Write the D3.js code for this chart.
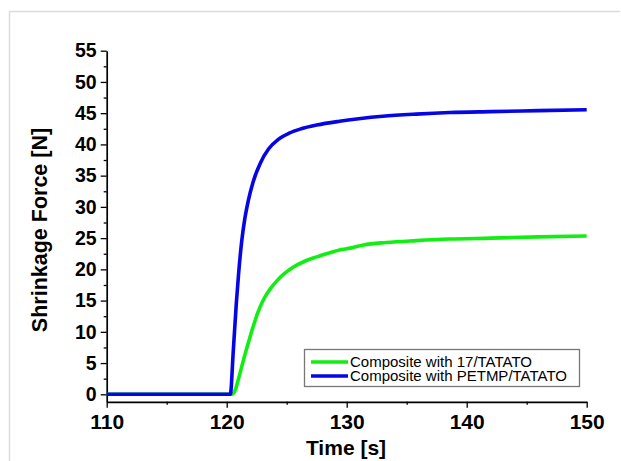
<!DOCTYPE html>
<html>
<head>
<meta charset="utf-8">
<script src="https://cdn.jsdelivr.net/npm/d3@7"></script>
<style>
  body { margin: 0; background: #fff; }
  text { font-family: Arial, "Liberation Sans", sans-serif; }
</style>
</head>
<body>
<script>
// ---------------------------- DATA ----------------------------
const seriesNames = ["Composite with 17/TATATO", "Composite with PETMP/TATATO"];
const seriesColors = ["#11ee11", "#0505e6"];

const time17 = [110, 120.45, 120.7, 121.0, 121.4, 121.8, 122.2, 122.6, 123.05, 123.6, 124.2, 124.8,
  125.5, 126.5, 127.5, 128.5, 129.4, 130.3, 131.4, 133.3, 135.8, 138.6, 142, 146, 150];
const force17 = [0, 0, 0.6, 2.6, 5.5, 8.2, 10.8, 13.1, 15.1, 16.8, 18.2, 19.3,
  20.3, 21.3, 22.0, 22.6, 23.1, 23.4, 23.9, 24.3, 24.6, 24.85, 25.0, 25.2, 25.35];

const timePETMP = [110, 120.3, 120.55, 120.8, 121.0, 121.25, 121.5, 121.8, 122.2, 122.8, 123.5, 124.3,
  125.2, 126.2, 127.5, 129.4, 131, 133, 135.8, 138.6, 142, 146, 150];
const forcePETMP = [0, 0, 7, 14.5, 19.5, 24.5, 28, 31, 34, 37, 39.3, 40.8,
  41.8, 42.5, 43.1, 43.7, 44.1, 44.5, 44.85, 45.1, 45.25, 45.4, 45.55];

const xTicks = [110, 120, 130, 140, 150];
const yTicks = [0, 5, 10, 15, 20, 25, 30, 35, 40, 45, 50, 55];

// ---------------------------- SVG ----------------------------
const width = 621, height = 461;
const svg = d3.select("body").append("svg")
  .attr("width", width).attr("height", height);

// light frame around the figure
svg.append("path")
  .attr("d", "M9.5,461 V11.5 H620")
  .attr("fill", "none").attr("stroke", "#dcdcdc").attr("stroke-width", 1.5);

// ---------------------------- SCALES ----------------------------
const x = d3.scaleLinear().domain([110, 150]).range([106.7, 586.7]);
const y = d3.scaleLinear().domain([-1.2, 55]).range([401.8, 50.7]);

// ---------------------------- AXES ----------------------------
const xAxis = svg.append("g").attr("transform", "translate(0," + y(-1.2) + ")")
  .call(d3.axisBottom(x).tickValues(xTicks).tickSize(6).tickPadding(6).tickSizeOuter(0));
svg.append("g").attr("transform", "translate(0," + y(-1.2) + ")")
  .call(d3.axisBottom(x).tickValues([115, 125, 135, 145]).tickSize(3).tickFormat("").tickSizeOuter(0))
  .select(".domain").remove();

const yAxis = svg.append("g").attr("transform", "translate(" + x(110) + ",0)")
  .call(d3.axisLeft(y).tickValues(yTicks).tickSize(6).tickPadding(4).tickSizeOuter(0));
svg.append("g").attr("transform", "translate(" + x(110) + ",0)")
  .call(d3.axisLeft(y).tickValues(d3.range(2.5, 55, 5)).tickSize(3).tickFormat("").tickSizeOuter(0))
  .select(".domain").remove();

svg.selectAll(".domain").attr("stroke-width", 1.7);
svg.selectAll(".tick line").attr("stroke-width", 1.3);

xAxis.selectAll("text")
  .style("font-size", "21px").style("font-weight", "bold").attr("fill", "#000");
yAxis.selectAll("text")
  .style("font-size", "19.5px").style("font-weight", "bold").attr("fill", "#000");

// axis titles
svg.append("text")
  .attr("x", 346).attr("y", 455)
  .attr("text-anchor", "middle")
  .style("font-size", "21px").style("font-weight", "bold")
  .text("Time [s]");

svg.append("text")
  .attr("transform", "translate(47,230) rotate(-90)")
  .attr("text-anchor", "middle")
  .style("font-size", "21.5px").style("font-weight", "bold")
  .text("Shrinkage Force [N]");

// ---------------------------- LINES ----------------------------
const line = d3.line()
  .x(d => x(d[0]))
  .y(d => y(d[1]))
  .curve(d3.curveMonotoneX);

const series = [
  { name: seriesNames[0], color: seriesColors[0], values: d3.zip(time17, force17) },
  { name: seriesNames[1], color: seriesColors[1], values: d3.zip(timePETMP, forcePETMP) }
];

svg.selectAll("path.serie")
  .data(series)
  .enter().append("path")
  .attr("class", "serie")
  .attr("fill", "none")
  .attr("stroke", d => d.color)
  .attr("stroke-width", 3.6)
  .attr("stroke-linejoin", "round")
  .attr("d", d => line(d.values));

// ---------------------------- LEGEND ----------------------------
const legend = svg.append("g");
legend.append("rect")
  .attr("x", 304.5).attr("y", 349.5).attr("width", 275).attr("height", 37)
  .attr("fill", "#fff").attr("stroke", "#777").attr("stroke-width", 1.3);

const items = legend.selectAll("g.item")
  .data(series)
  .enter().append("g")
  .attr("class", "item")
  .attr("transform", (d, i) => "translate(0," + (362 + i * 14) + ")");

items.append("line")
  .attr("x1", 311).attr("x2", 348)
  .attr("stroke", d => d.color).attr("stroke-width", 3.6);

items.append("text")
  .attr("x", 350).attr("dy", "0.36em")
  .style("font-size", "15px")
  .text(d => d.name);
</script>
</body>
</html>
